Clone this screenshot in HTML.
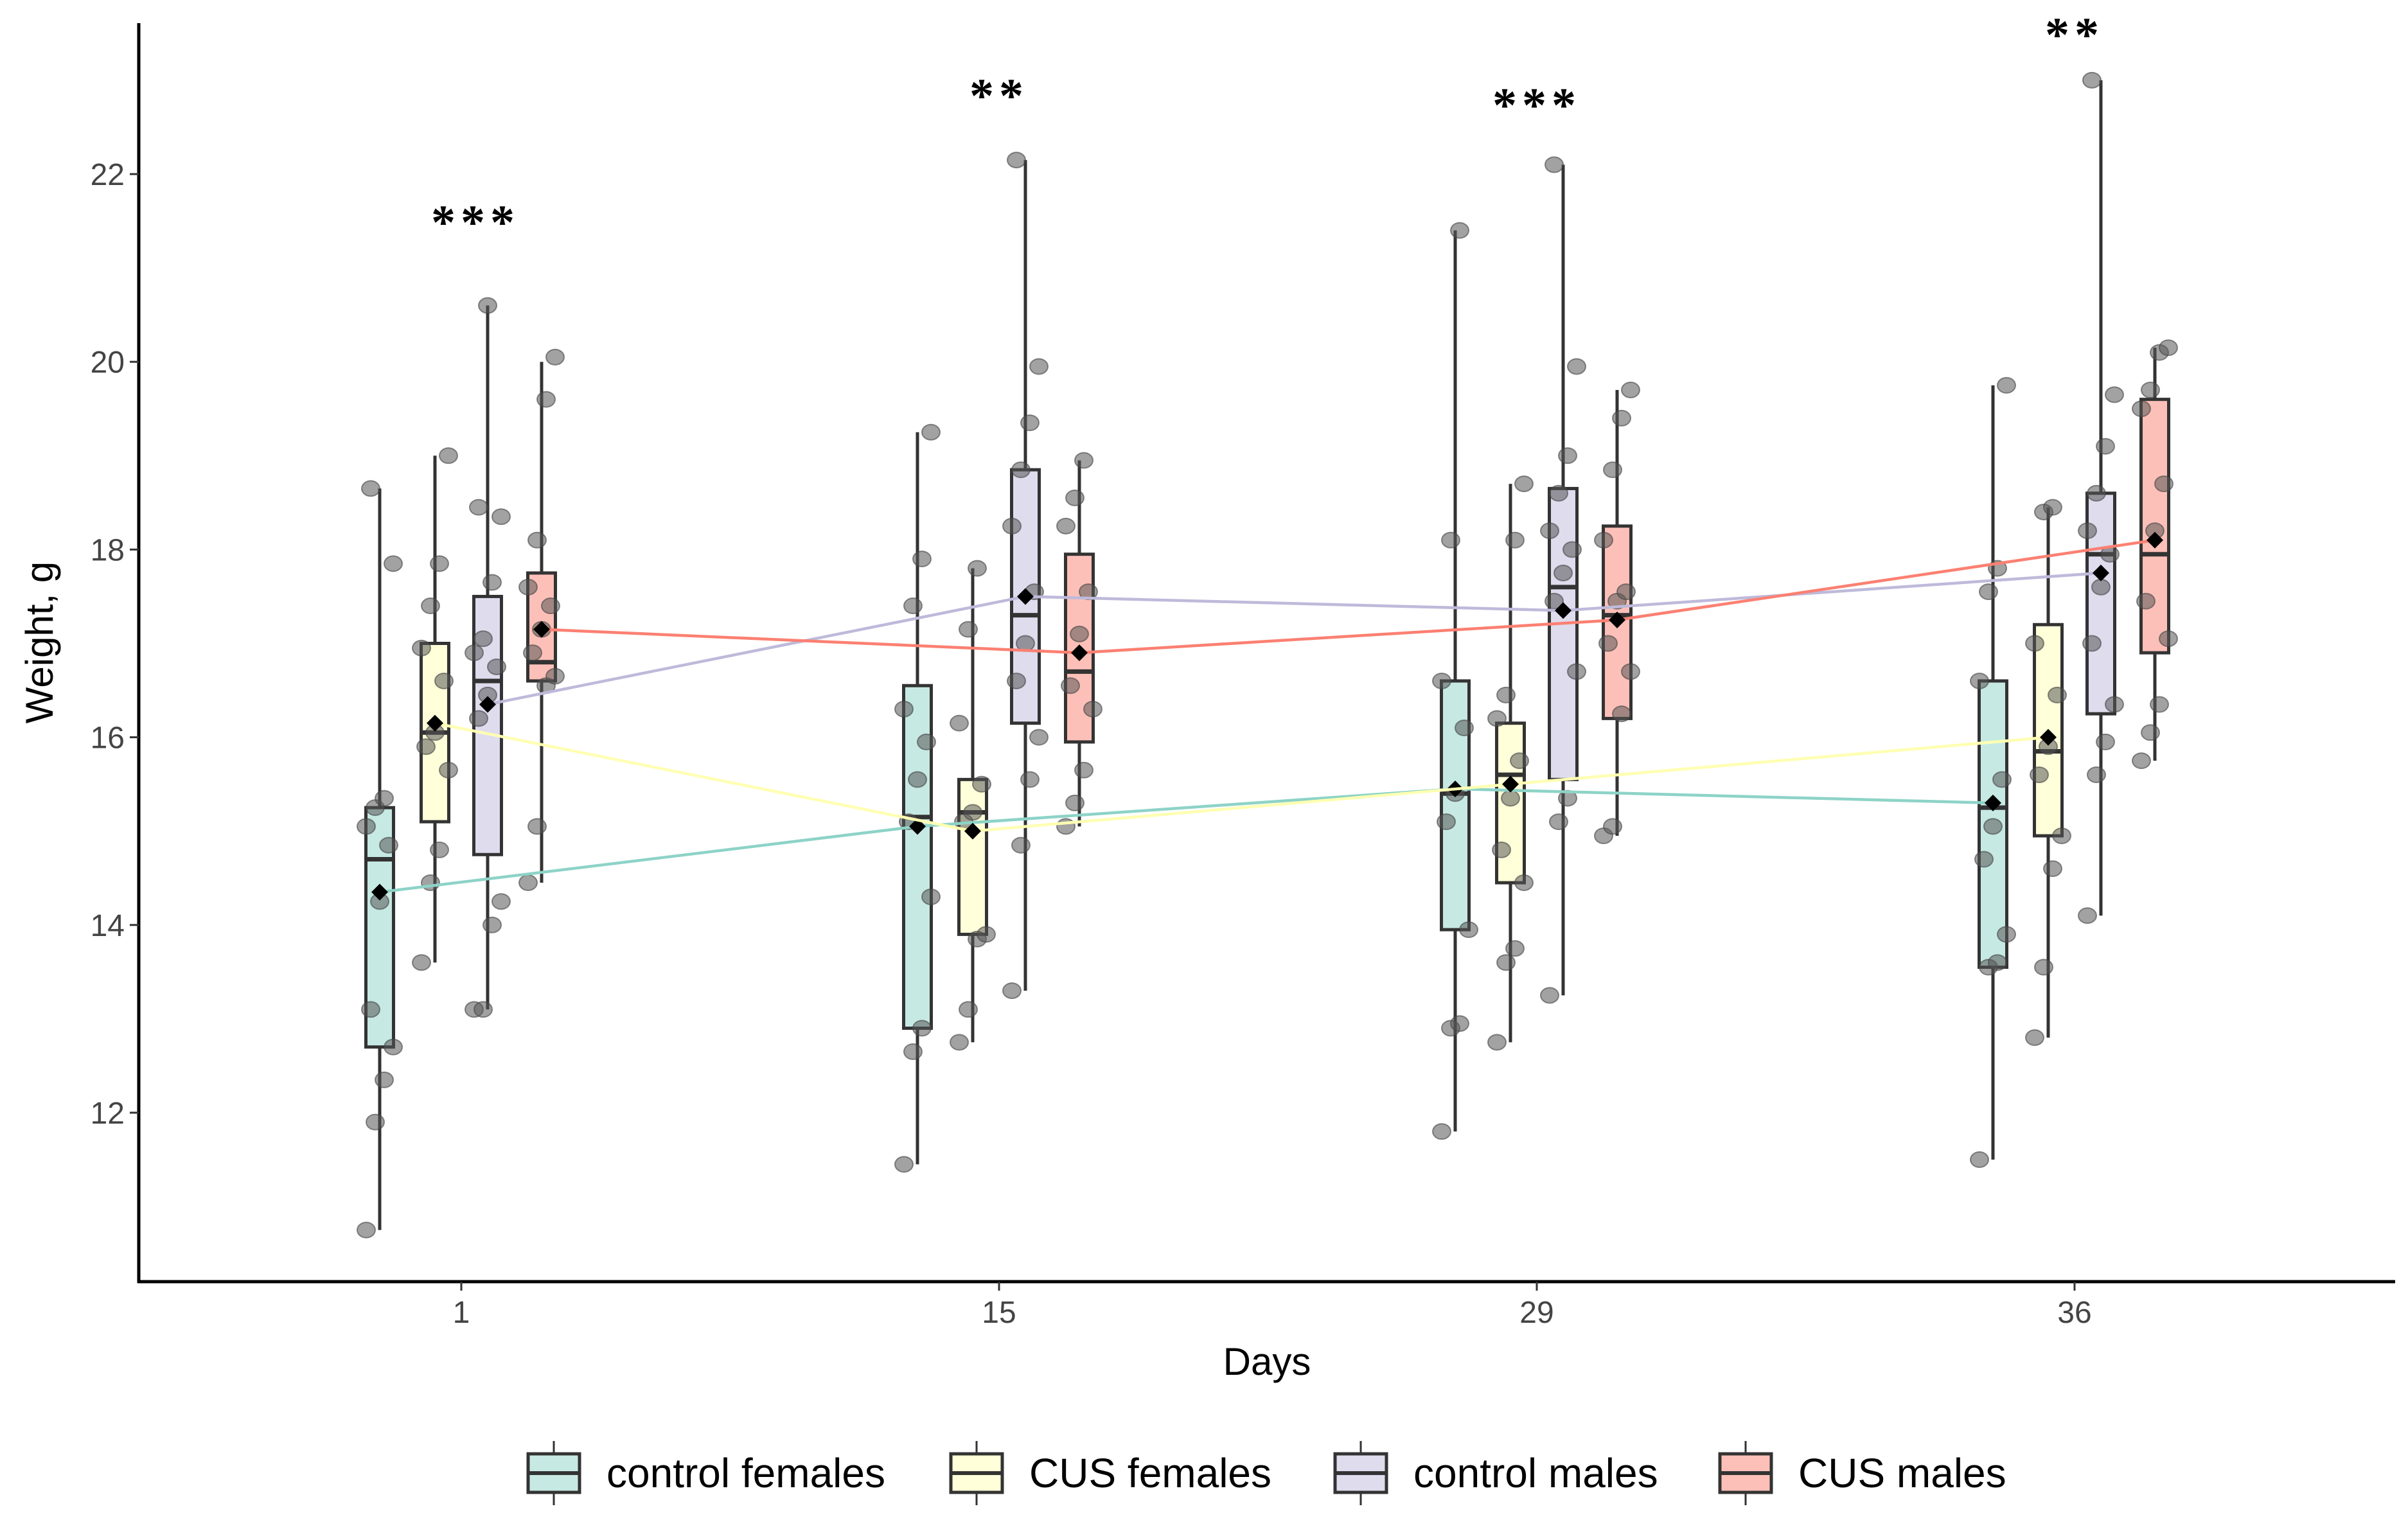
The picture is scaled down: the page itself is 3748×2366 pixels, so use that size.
<!DOCTYPE html>
<html><head><meta charset="utf-8"><style>
html,body{margin:0;padding:0;background:#fff;}
svg{display:block;font-family:"Liberation Sans",sans-serif;}
</style></head><body>
<svg id="chart" width="3748" height="2366" viewBox="0 0 3748 2366" xmlns="http://www.w3.org/2000/svg"></svg>
<script>
const days = ["1","15","29","36"];
const groups = ["control females","CUS females","control males","CUS males"];
const yTicks = [12,14,16,18,20,22];
// per group, per day
const whiskLo = [[10.75,11.45,11.8,11.5],[13.6,12.75,12.75,12.8],[13.1,13.3,13.25,14.1],[14.45,15.05,14.95,15.75]];
const whiskHi = [[18.65,19.25,21.4,19.75],[19.0,17.8,18.7,18.45],[20.6,22.15,22.1,23.0],[20.0,18.95,19.7,20.15]];
const q1 = [[12.7,12.9,13.95,13.55],[15.1,13.9,14.45,14.95],[14.75,16.15,15.55,16.25],[16.6,15.95,16.2,16.9]];
const med = [[14.7,15.15,15.4,15.25],[16.05,15.2,15.6,15.85],[16.6,17.3,17.6,17.95],[16.8,16.7,17.3,17.95]];
const q3 = [[15.25,16.55,16.6,16.6],[17.0,15.55,16.15,17.2],[17.5,18.85,18.65,18.6],[17.75,17.95,18.25,19.6]];
const means = [[14.35,15.05,15.45,15.3],[16.15,15.0,15.5,16.0],[16.35,17.5,17.35,17.75],[17.15,16.9,17.25,18.1]];
const pts = [
 [[10.75,11.9,12.35,12.7,13.1,14.25,14.85,15.05,15.25,15.35,17.85,18.65],[11.45,12.65,12.9,14.3,15.1,15.55,15.95,16.3,17.4,17.9,19.25],[11.8,12.9,12.95,13.95,15.1,15.4,16.1,16.6,18.1,21.4],[11.5,13.55,13.6,13.9,14.7,15.05,15.55,16.6,17.55,17.8,19.75]],
 [[13.6,14.45,14.8,15.65,15.9,16.05,16.6,16.95,17.4,17.85,19.0],[12.75,13.1,13.85,13.9,15.1,15.2,15.5,16.15,17.15,17.8],[12.75,13.6,13.75,14.45,14.8,15.35,15.75,16.2,16.45,18.1,18.7],[12.8,13.55,14.6,14.95,15.6,15.9,16.45,17.0,18.4,18.45]],
 [[13.1,13.1,14.0,14.25,16.2,16.45,16.75,16.9,17.05,17.65,18.35,18.45,20.6],[13.3,14.85,15.55,16.0,16.6,17.0,17.55,18.25,18.85,19.35,19.95,22.15],[13.25,15.1,15.35,16.7,17.45,17.75,18.0,18.2,18.6,19.0,19.95,22.1],[14.1,15.6,15.95,16.35,17.0,17.6,17.95,18.2,18.6,19.1,19.65,23.0]],
 [[14.45,15.05,16.55,16.65,16.9,17.15,17.4,17.6,18.1,19.6,20.05],[15.05,15.3,15.65,16.3,16.55,17.1,17.55,18.25,18.55,18.95],[14.95,15.05,16.25,16.7,17.0,17.45,17.55,18.1,18.85,19.4,19.7],[15.75,16.05,16.35,17.05,17.45,18.2,18.7,19.5,19.7,20.1,20.15]]
];
const stars = ["***","**","***","**"];
const starY = [21.55,22.9,22.8,23.55];
const lineCol = ["#8dd3c7","#ffffb3","#bebada","#fb8072"];
const fillCol = ["#c6e9e3","#ffffd9","#dedced","#fdc0b8"];
const NS="http://www.w3.org/2000/svg";
const svg=document.getElementById('chart');
const X0=216,Y0=1995,XR=3728,YT=36;
function ys(v){return 1732-(v-12)*146.1;}
function xs(d,g){return 718+d*837+[-127,-41,41,125][g];}
function mk(tag,at,parent){const e=document.createElementNS(NS,tag);for(const k in at)e.setAttribute(k,at[k]);(parent||svg).appendChild(e);return e;}
let e=mk('line',{x1:X0,y1:YT,x2:X0,y2:Y0+2,stroke:'#000','stroke-width':5});

e=mk('line',{x1:X0-2,y1:Y0,x2:XR,y2:Y0,stroke:'#000','stroke-width':5});

yTicks.forEach(t=>{
 const y=ys(t);
 let l=mk('line',{x1:X0-14,y1:y,x2:X0,y2:y,stroke:'#333','stroke-width':3});
 
 let tx=mk('text',{x:X0-22,y:y+17,'text-anchor':'end','font-size':48,fill:'#444'});tx.textContent=t;
 
});
days.forEach((d,i)=>{
 const x=718+i*837;
 let l=mk('line',{x1:x,y1:Y0,x2:x,y2:Y0+14,stroke:'#333','stroke-width':3});
 
 let tx=mk('text',{x:x,y:Y0+64,'text-anchor':'middle','font-size':48,fill:'#444'});tx.textContent=d;
 
});
let t=mk('text',{x:1972,y:2140,'text-anchor':'middle','font-size':60,fill:'#000'});t.textContent='Days';

t=mk('text',{x:0,y:0,'text-anchor':'middle','font-size':60,fill:'#000',transform:'translate(82,1000) rotate(-90)'});t.textContent='Weight, g';

for(let g=0;g<4;g++){for(let d=0;d<4;d++){
 const x=xs(d,g),w=43;
 let wl=mk('line',{x1:x,y1:ys(whiskHi[g][d]),x2:x,y2:ys(whiskLo[g][d]),stroke:'#333','stroke-width':5});
 
 let r=mk('rect',{x:x-w/2,y:ys(q3[g][d]),width:w,height:ys(q1[g][d])-ys(q3[g][d]),fill:fillCol[g],stroke:'#333','stroke-width':5});
 
 let m=mk('line',{x1:x-w/2,y1:ys(med[g][d]),x2:x+w/2,y2:ys(med[g][d]),stroke:'#333','stroke-width':7});
 
 pts[g][d].forEach((v,k)=>{
  const jx=x+((k*37)%7-3)*7;
  let c=mk('ellipse',{cx:jx,cy:ys(v),rx:14,ry:12,fill:'#555','fill-opacity':0.55,stroke:'#444','stroke-opacity':0.6,'stroke-width':2});
  
 });
}}
for(let g=0;g<4;g++){
 const p=means[g].map((v,d)=>xs(d,g)+','+ys(v)).join(' ');
 let pl=mk('polyline',{points:p,fill:'none',stroke:lineCol[g],'stroke-width':4.5});
 
 means[g].forEach((v,d)=>{
  const x=xs(d,g),y=ys(v);
  let dm=mk('polygon',{points:`${x},${y-13} ${x+13},${y} ${x},${y+13} ${x-13},${y}`,fill:'#000'});
  
 });
}
stars.forEach((s,i)=>{
 let st=mk('text',{x:718+i*837+(i==0?22:0),y:ys(starY[i])+35,'text-anchor':'middle','font-size':76,'font-weight':'bold','letter-spacing':8,fill:'#000','font-family':'Liberation Serif,serif'});
 st.textContent=s;
});
const legX=[822,1480,2078,2677];
groups.forEach((gname,g)=>{
 const x=legX[g],cy=2293;
 const gr=mk('g',{});
 
 mk('line',{x1:x+40,y1:cy-50,x2:x+40,y2:cy+50,stroke:'#333','stroke-width':3},gr);
 mk('rect',{x:x,y:cy-30,width:80,height:60,fill:fillCol[g],stroke:'#333','stroke-width':5},gr);
 mk('line',{x1:x,y1:cy,x2:x+80,y2:cy,stroke:'#333','stroke-width':6},gr);
 const tx=mk('text',{x:x+122,y:cy+22,'font-size':64,fill:'#000'},gr);tx.textContent=gname;
});
</script>
</body></html>
